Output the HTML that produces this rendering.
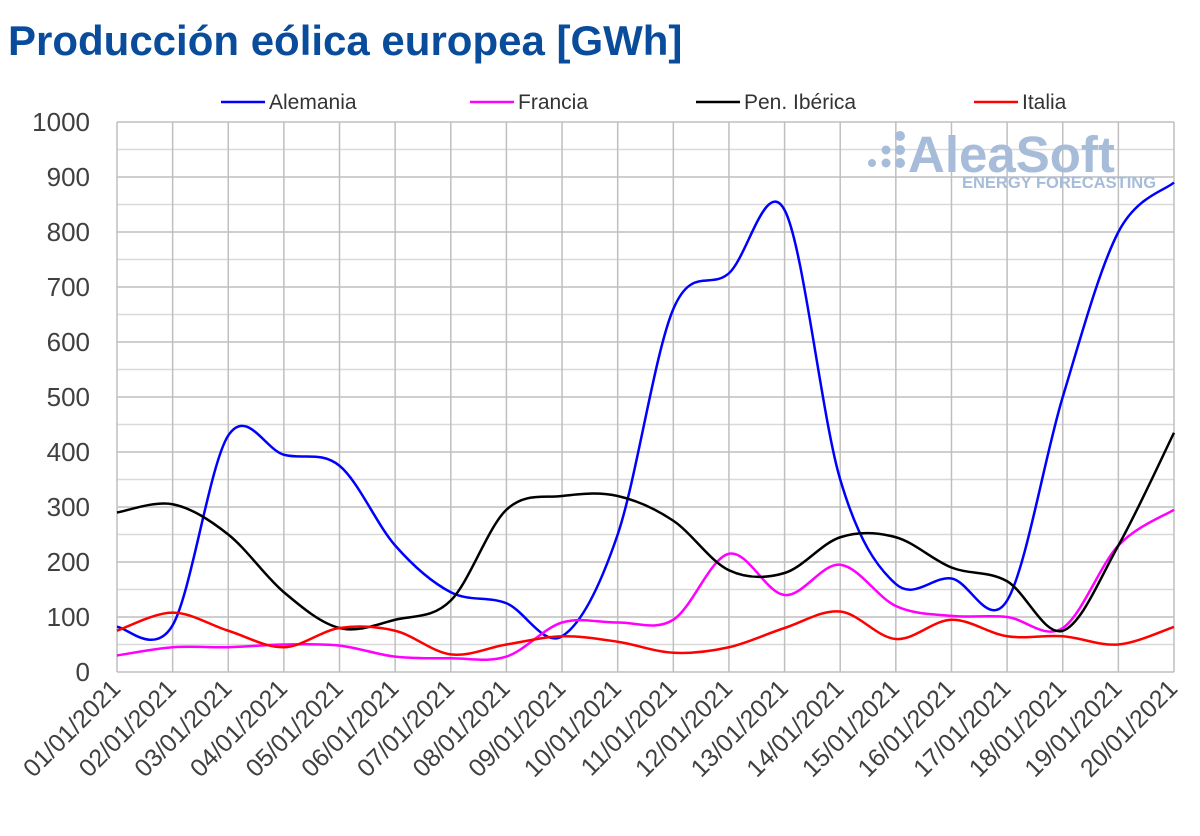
<!DOCTYPE html>
<html><head><meta charset="utf-8"><style>
body{margin:0;background:#fff;width:1200px;height:831px;overflow:hidden}
svg text{font-family:"Liberation Sans",sans-serif}
</style></head><body>
<svg id="s" width="1200" height="831" xmlns="http://www.w3.org/2000/svg">
<text x="8" y="55" font-size="42" font-weight="bold" fill="#0a4c9c">Producción eólica europea [GWh]</text>
<g id="grid"></g>
<g font-size="21" fill="#333">
<line x1="221" y1="102" x2="265" y2="102" stroke="#0000ff" stroke-width="2.5"/><text x="269" y="109">Alemania</text>
<line x1="470" y1="102" x2="514" y2="102" stroke="#ff00ff" stroke-width="2.5"/><text x="518" y="109">Francia</text>
<line x1="696" y1="102" x2="740" y2="102" stroke="#000" stroke-width="2.5"/><text x="744" y="109">Pen. Ibérica</text>
<line x1="974" y1="102" x2="1018" y2="102" stroke="#ff0000" stroke-width="2.5"/><text x="1022" y="109">Italia</text>
</g>
<g fill="#a7bcd9">
<text x="908" y="172" font-size="51" font-weight="bold">AleaSoft</text>
<text x="962" y="188" font-size="16.5" font-weight="bold">ENERGY FORECASTING</text>
<circle cx="900" cy="136" r="5"/><circle cx="900" cy="150" r="5"/><circle cx="900" cy="163" r="5"/><circle cx="886" cy="150" r="4.5"/><circle cx="886" cy="163" r="4.5"/><circle cx="872" cy="163" r="4"/>
</g>
<g id="lines"></g>
</svg>
<script>
const X0=117,X1=1174,Y0=672,K=0.55,n=19;
const xs=i=>X0+(X1-X0)*i/n, ys=v=>Y0-v*K;
let g='';
for(let v=0;v<=1000;v+=50){const y=ys(v);g+=`<line x1="${X0}" y1="${y}" x2="${X1}" y2="${y}" stroke="${v%100?'#d9d9d9':'#bfbfbf'}" stroke-width="1.5"/>`;
if(v%100==0)g+=`<text x="90" y="${y+9}" font-size="26" fill="#404040" text-anchor="end">${v}</text>`;}
for(let i=0;i<=n;i++){const x=xs(i);g+=`<line x1="${x}" y1="${ys(1000)}" x2="${x}" y2="${Y0}" stroke="#bfbfbf" stroke-width="1.5"/>`;
const d=String(i+1).padStart(2,'0')+'/01/2021';
g+=`<text transform="translate(${x+5},${Y0+18}) rotate(-45)" font-size="25" fill="#404040" text-anchor="end">${d}</text>`;}
document.getElementById('grid').innerHTML=g;
const S=[
['#0000ff',[82,85,430,395,375,230,145,125,65,250,660,725,840,350,160,170,130,500,800,890]],
['#ff00ff',[30,45,45,50,48,28,25,28,90,90,95,215,140,195,120,102,100,80,230,295]],
['#000000',[290,305,250,145,80,95,130,295,320,320,275,185,180,245,245,190,165,75,230,435]],
['#ff0000',[75,108,75,45,80,75,32,50,65,55,35,45,80,110,60,95,65,65,50,82]]];
let L='';
for(const [c,v] of S){const p=v.map((a,i)=>[xs(i),ys(a)]);let d=`M${p[0]}`;
for(let i=0;i<p.length-1;i++){const a=p[i-1]||p[i],b=p[i],e=p[i+1],f=p[i+2]||e;
const c1=[b[0]+(e[0]-a[0])/6,b[1]+(e[1]-a[1])/6],c2=[e[0]-(f[0]-b[0])/6,e[1]-(f[1]-b[1])/6];
d+=`C${c1} ${c2} ${e}`;}
L+=`<path d="${d}" fill="none" stroke="${c}" stroke-width="2.5"/>`;}
document.getElementById('lines').innerHTML=L;
</script>
</body></html>
